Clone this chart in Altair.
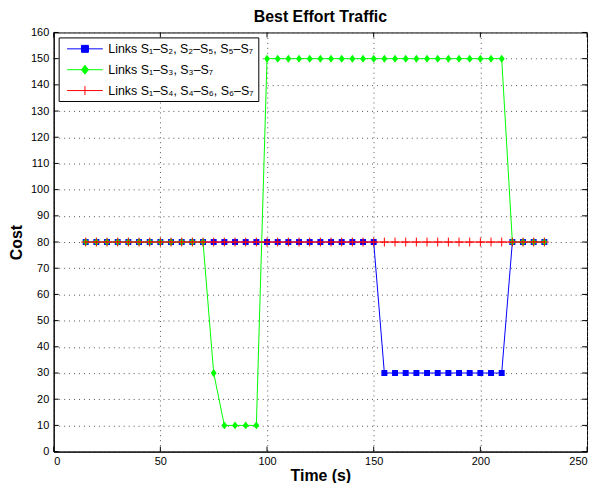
import altair as alt
import pandas as pd

# ---- data ----
time_s = [15, 20, 25, 30, 35, 40, 45, 50, 55, 60, 65, 70, 75, 80, 85, 90, 95,
          100, 105, 110, 115, 120, 125, 130, 135, 140, 145, 150, 155, 160, 165,
          170, 175, 180, 185, 190, 195, 200, 205, 210, 215, 220, 225, 230]

cost_blue = [80, 80, 80, 80, 80, 80, 80, 80, 80, 80, 80, 80, 80, 80, 80, 80, 80,
             80, 80, 80, 80, 80, 80, 80, 80, 80, 80, 80, 30, 30, 30,
             30, 30, 30, 30, 30, 30, 30, 30, 30, 80, 80, 80, 80]

cost_green = [80, 80, 80, 80, 80, 80, 80, 80, 80, 80, 80, 80, 30, 10, 10, 10, 10,
              150, 150, 150, 150, 150, 150, 150, 150, 150, 150, 150, 150, 150, 150,
              150, 150, 150, 150, 150, 150, 150, 150, 150, 80, 80, 80, 80]

cost_red = [80, 80, 80, 80, 80, 80, 80, 80, 80, 80, 80, 80, 80, 80, 80, 80, 80,
            80, 80, 80, 80, 80, 80, 80, 80, 80, 80, 80, 80, 80, 80,
            80, 80, 80, 80, 80, 80, 80, 80, 80, 80, 80, 80, 80]

series_names = ["Links S\u2081\u2013S\u2082, S\u2082\u2013S\u2085, S\u2085\u2013S\u2087",
                "Links S\u2081\u2013S\u2083, S\u2083\u2013S\u2087",
                "Links S\u2081\u2013S\u2084, S\u2084\u2013S\u2086, S\u2086\u2013S\u2087"]
series_colors = ["#0000FF", "#00FF00", "#FF0000"]

x_ticks = [0, 50, 100, 150, 200, 250]
y_ticks = [0, 10, 20, 30, 40, 50, 60, 70, 80, 90, 100, 110, 120, 130, 140, 150, 160]

# ---- tables ----
rows = []
for name, costs in zip(series_names, [cost_blue, cost_green, cost_red]):
    for t, c in zip(time_s, costs):
        rows.append({"series": name, "time": t, "cost": c})
df = pd.DataFrame(rows)
xt = pd.DataFrame({"time": x_ticks})
yt = pd.DataFrame({"cost": y_ticks})

W, H = 537, 422
FONT = "Liberation Sans"
TL = 5  # inward tick length (px)

axis_style = dict(
    grid=True, tickSize=0,
    labelFont=FONT, labelFontSize=11, labelColor="black",
    titleFont=FONT, titleFontSize=16, titleFontWeight="bold", titleColor="black",
    domainColor="black", domainWidth=1,
    gridColor="#555555", gridDash=[1, 4], gridWidth=1, gridOpacity=1,
)
x_scale = alt.Scale(domain=[0, 250], nice=False, zero=False)
y_scale = alt.Scale(domain=[0, 160], nice=False, zero=False)
x_axis = alt.Axis(values=x_ticks, title="Time (s)", labelPadding=4,
                  titlePadding=1, **axis_style)
y_axis = alt.Axis(values=y_ticks, title="Cost", labelPadding=5,
                  titlePadding=6, **axis_style)
X = alt.X("time:Q", scale=x_scale, axis=x_axis)
Y = alt.Y("cost:Q", scale=y_scale, axis=y_axis)

diamond = "M0,-1L0.75,0L0,1L-0.75,0Z"
plus = "M-1,0H1M0,-1V1"

layers = []
marker_specs = [
    dict(shape="square", filled=True, size=36),
    dict(shape=diamond, filled=True, size=64),
    dict(shape=plus, filled=False, size=81, strokeWidth=1),
]
for name, col, ms in zip(series_names, series_colors, marker_specs):
    base = alt.Chart(df).transform_filter(alt.datum.series == name)
    layers.append(base.mark_line(color=col, strokeWidth=1).encode(x=X, y=Y))
    layers.append(base.mark_point(color=col, opacity=1, **ms).encode(x=X, y=Y))

# legend (symbols = line segment + marker), built from an empty layer with fixed domain
leg_paths = [
    "M-0.43,0H4.71M1.64,-0.5H2.64V0.5H1.64Z",
    "M-0.43,0H4.71M2.14,-0.64L2.64,0L2.14,0.64L1.64,0Z",
    "M-0.43,0H4.71M2.14,-0.64V0.64",
]
leg = alt.Legend(title=None, orient="top-left", offset=5, padding=4,
                 strokeColor="black", fillColor="white", labelFont=FONT,
                 labelFontSize=12.5, labelColor="black", labelOffset=31,
                 rowPadding=7, labelLimit=400, symbolStrokeWidth=1,
                 symbolSize=196)
col_scale = alt.Scale(domain=series_names, range=series_colors)
shape_scale = alt.Scale(domain=series_names, range=leg_paths)
legend_layer = alt.Chart(df).transform_filter("false").mark_point(
    size=196, strokeWidth=1, opacity=1
).encode(
    x=X, y=Y,
    fill=alt.Fill("series:N", scale=col_scale, legend=leg, sort=None),
    stroke=alt.Stroke("series:N", scale=col_scale, legend=leg, sort=None),
    shape=alt.Shape("series:N", scale=shape_scale, legend=leg, sort=None),
)
layers.append(legend_layer)

# inward ticks on all four sides
tick_style = dict(color="black", strokeWidth=1)
layers.append(alt.Chart(xt).mark_rule(**tick_style).encode(
    x=X, y=alt.value(H), y2=alt.value(H - TL)))
layers.append(alt.Chart(xt).mark_rule(**tick_style).encode(
    x=X, y=alt.value(0), y2=alt.value(TL)))
layers.append(alt.Chart(yt).mark_rule(**tick_style).encode(
    y=Y, x=alt.value(0), x2=alt.value(TL)))
layers.append(alt.Chart(yt).mark_rule(**tick_style).encode(
    y=Y, x=alt.value(W), x2=alt.value(W - TL)))

chart = alt.layer(*layers).properties(
    width=W, height=H,
    background="white",
    title=alt.TitleParams("Best Effort Traffic", font=FONT, fontSize=16,
                          fontWeight="bold", color="black", offset=2),
    autosize=alt.AutoSizeParams(type="none"),
    padding={"left": 46, "top": 23, "right": 5, "bottom": 30},
).configure_view(
    stroke="black", strokeWidth=1
)

chart.save("out.html", embed_options={"renderer": "svg", "actions": False})
